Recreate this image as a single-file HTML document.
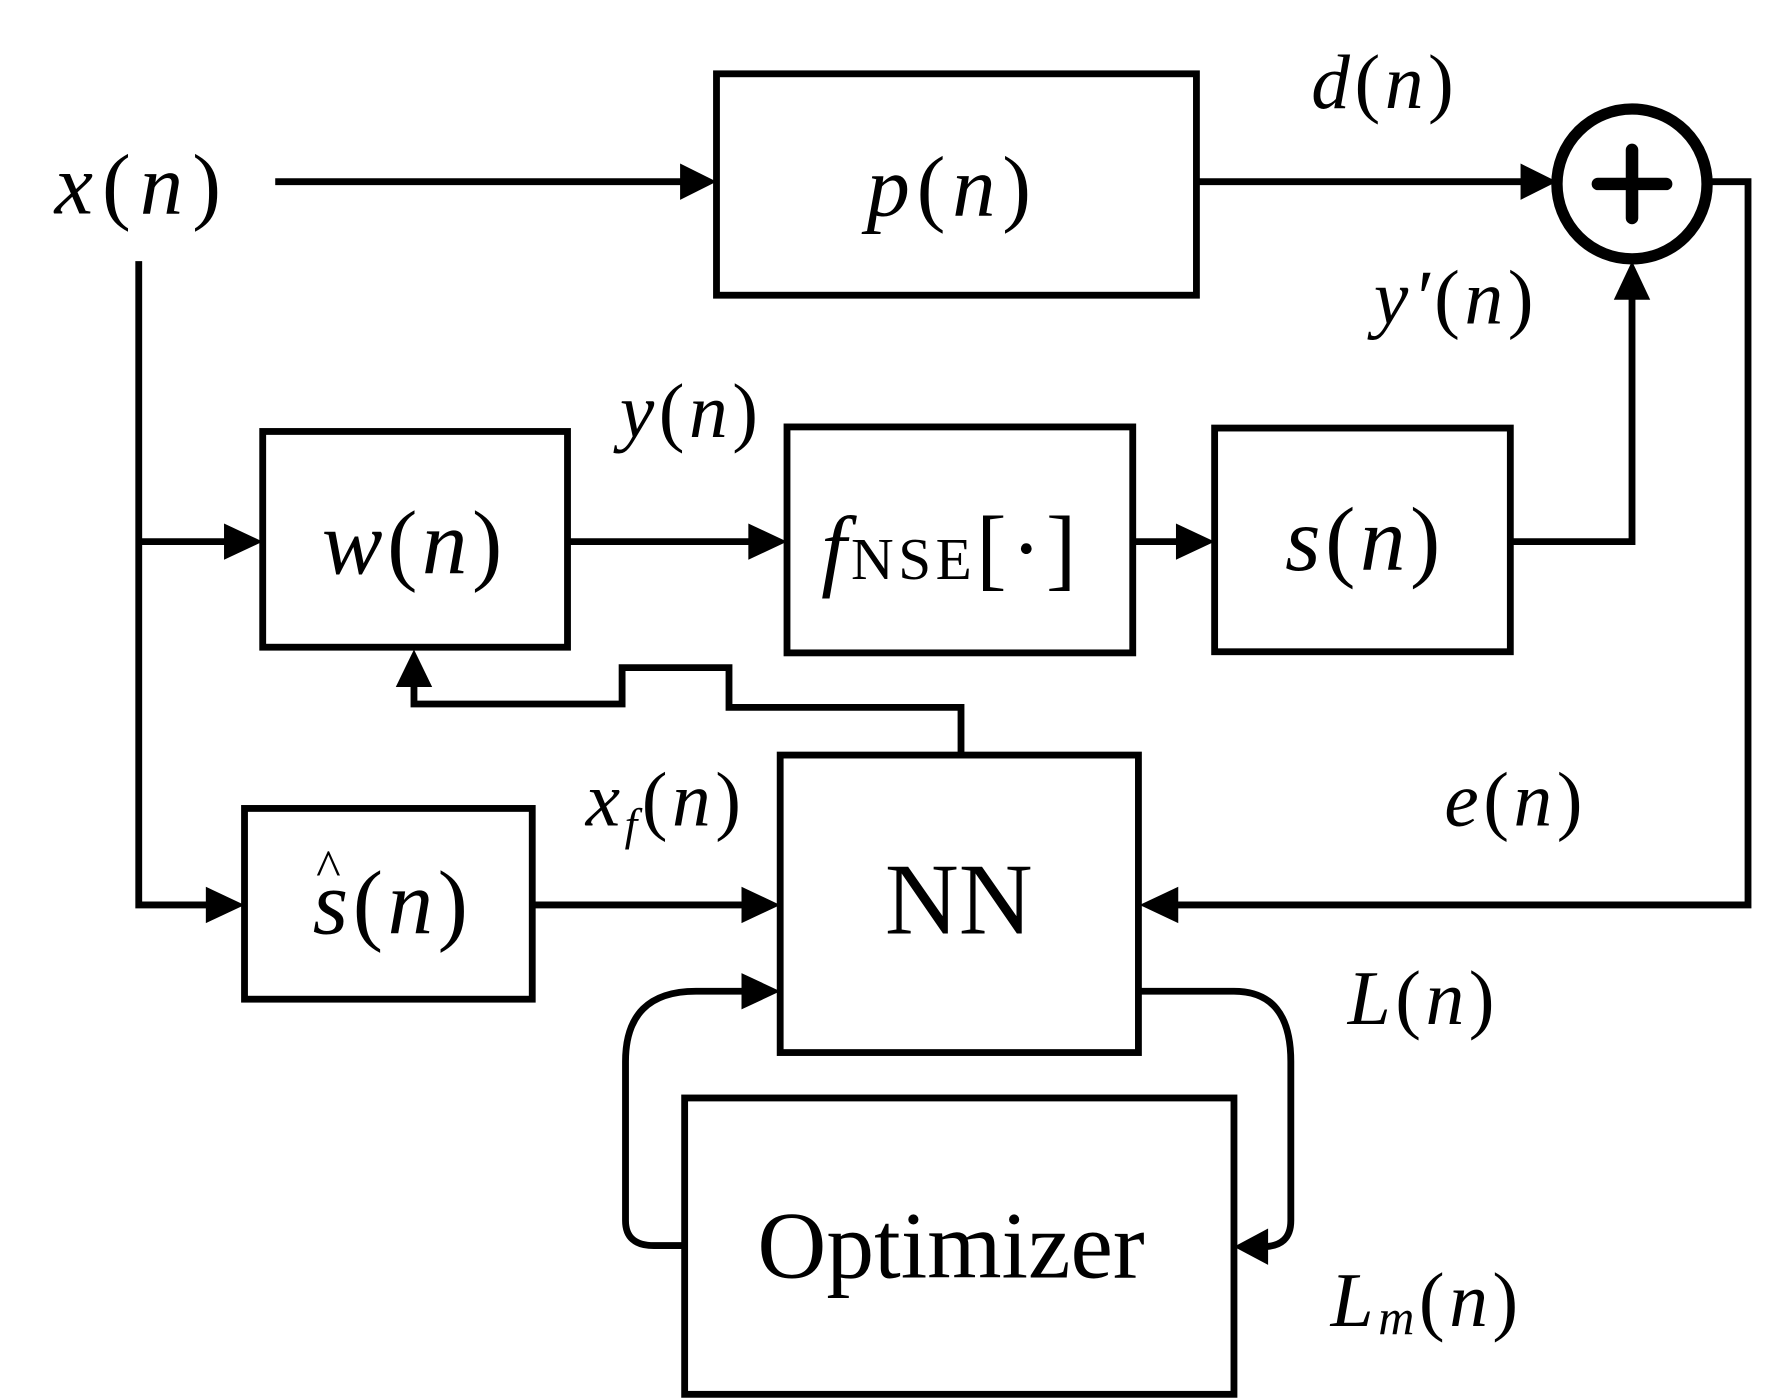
<!DOCTYPE html>
<html><head><meta charset="utf-8"><style>
html,body{margin:0;padding:0;background:#fff;}
svg{display:block;}
text{font-family:"Liberation Serif","DejaVu Serif",serif;fill:#000;}
.i{font-style:italic;}
.l{letter-spacing:4px;}
</style></head><body>
<svg width="1781" height="1400" viewBox="0 0 1566 1233" preserveAspectRatio="none" xmlns="http://www.w3.org/2000/svg">
<g fill="none" stroke="#000" stroke-width="6">
<rect x="630" y="65" width="422" height="195"/>
<rect x="231" y="380" width="268" height="190"/>
<rect x="692" y="376" width="304" height="199"/>
<rect x="1068" y="377" width="260" height="197"/>
<rect x="215" y="712" width="253" height="168"/>
<rect x="686" y="665" width="315" height="262"/>
<rect x="602" y="967" width="483" height="261"/>
<circle cx="1435" cy="162" r="66" stroke-width="10"/>
<path d="M242 160H605M1052 160H1340M1501 160H1537V797H1030M122 230V797H190M122 477H205M499 477H665M996 477H1042M1328 477H1435V260M468 797H660M845 665V623H641V588H547V620H364V600"/>
<path d="M1001 873H1085Q1135 873 1135 935V1075Q1135 1098 1110 1098"/>
<path d="M602 1097H575Q550 1097 550 1075V935Q550 873 612 873H660"/>
</g>
<path d="M1435 132V192M1405 162H1465" stroke="#000" stroke-width="11" stroke-linecap="round"/>
<g fill="#000">
<polygon points="630,160 598,144 598,176"/>
<polygon points="1369,160 1337,144 1337,176"/>
<polygon points="1435,230 1419,264 1451,264"/>
<polygon points="231,477 197,461 197,493"/>
<polygon points="692,477 658,461 658,493"/>
<polygon points="1068,477 1034,461 1034,493"/>
<polygon points="215,797 181,781 181,813"/>
<polygon points="686,797 652,781 652,813"/>
<polygon points="1002,797 1036,781 1036,813"/>
<polygon points="364,572 348,605 380,605"/>
<polygon points="686,873 652,857 652,889"/>
<polygon points="1085,1098 1115,1082 1115,1114"/>
</g>
<g font-size="76" class="l">
<text x="48" y="188" letter-spacing="8"><tspan class="i">x</tspan>(<tspan class="i">n</tspan>)</text>
<text x="762" y="190" letter-spacing="6"><tspan class="i">p</tspan>(<tspan class="i">n</tspan>)</text>
</g>
<g font-size="68" class="l">
<text x="1153" y="95"><tspan class="i">d</tspan>(<tspan class="i">n</tspan>)</text>
<text x="1208" y="285"><tspan class="i">y′</tspan>(<tspan class="i">n</tspan>)</text>
<text x="545" y="385"><tspan class="i">y</tspan>(<tspan class="i">n</tspan>)</text>
<text x="1270" y="727"><tspan class="i">e</tspan>(<tspan class="i">n</tspan>)</text>
<text x="1185" y="902"><tspan class="i">L</tspan>(<tspan class="i">n</tspan>)</text>
<text x="515" y="727"><tspan class="i">x</tspan><tspan class="i" font-size="40" dy="13">f</tspan><tspan dy="-13">(</tspan><tspan class="i">n</tspan>)</text>
<text x="1170" y="1168"><tspan class="i">L</tspan><tspan class="i" font-size="44" dy="7">m</tspan><tspan dy="-7">(</tspan><tspan class="i">n</tspan>)</text>
</g>
<g font-size="80" class="l">
<text x="283" y="505"><tspan class="i">w</tspan>(<tspan class="i">n</tspan>)</text>
<text x="1130" y="502"><tspan class="i">s</tspan>(<tspan class="i">n</tspan>)</text>
<text x="275" y="822"><tspan class="i">s</tspan>(<tspan class="i">n</tspan>)</text>
<text x="722" y="510"><tspan class="i">f</tspan><tspan font-size="52">NSE</tspan>[·]</text>
</g>
<text x="278" y="780" font-size="46">^</text>
<text x="778" y="822" font-size="90">NN</text>
<text x="666" y="1125" font-size="84">Optimizer</text>
</svg>
</body></html>
